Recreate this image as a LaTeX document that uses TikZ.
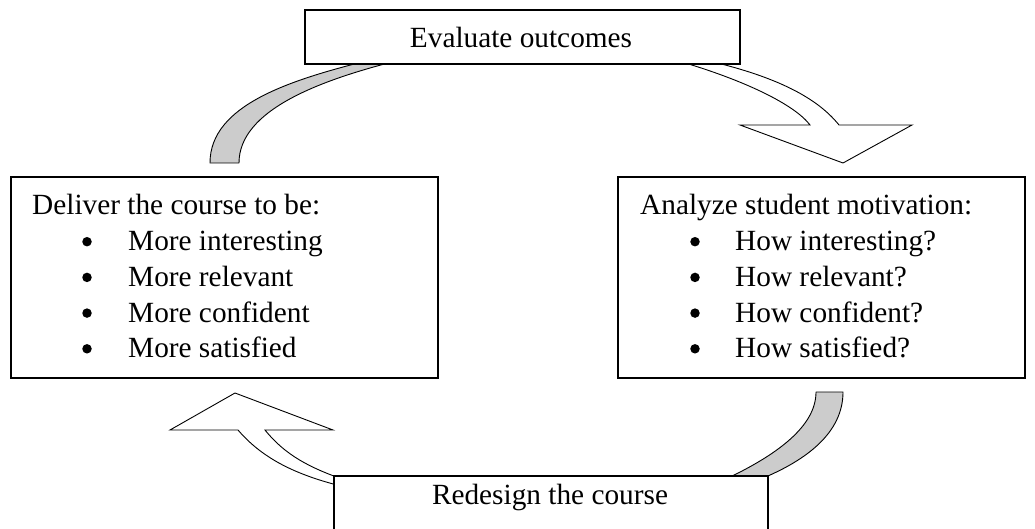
\documentclass[tikz,border=0pt]{standalone}
\usepackage{fontspec}
\setmainfont{Liberation Serif}
\usetikzlibrary{positioning, calc}

\begin{document}
\begin{tikzpicture}[x=1pt, y=-1pt, font=\fontsize{29.3}{35.7}\selectfont]
    \tikzstyle{box}=[draw, line width=1.2pt, fill=white, inner sep=0pt]
    \tikzstyle{band}=[draw, line width=0.9pt, fill=black!20, line join=round]
    \tikzstyle{bigarrow}=[draw, line width=0.9pt, fill=white, line join=miter]
    \tikzstyle{txt}=[anchor=base west, inner sep=0pt]
    \tikzstyle{dot}=[circle, fill, inner sep=0pt, minimum size=9.5pt]

    \useasboundingbox (0,0) rectangle (1035,529);

    % curved arrows, drawn first so the boxes cover their ends
    \draw[band] (210,163) .. controls (210,105) and (290,80) .. (370,60)
        -- (400,60) .. controls (320,80) and (239,110) .. (239,163) -- cycle;
    \draw[bigarrow] (675,60) .. controls (745,80) and (795,105) .. (810,125)
        -- (740,125) -- (843,163) -- (912,125) -- (839,125)
        .. controls (815,95) and (770,75) .. (705,60) -- cycle;
    \draw[band] (816,392) -- (843,392) .. controls (843,432) and (808,462) .. (748,484)
        -- (715,484) .. controls (780,455) and (816,425) .. (816,392) -- cycle;
    \draw[bigarrow] (345,487) .. controls (295,475) and (262,458) .. (238,430)
        -- (170,430) -- (235,393) -- (333,430) -- (265,430)
        .. controls (285,455) and (310,468) .. (345,480) -- cycle;

    % boxes
    \node[box, minimum width=435, minimum height=54] (evaluate) at (522.5,37) {};
    \node[box, minimum width=427, minimum height=201] (deliver) at (224.5,277.5) {};
    \node[box, minimum width=407, minimum height=201] (analyze) at (821.5,277.5) {};
    \node[box, minimum width=434, minimum height=56] (redesign) at (551,504) {};

    % texts
    \node[txt, anchor=base] (evaluate text) at (521,48) {Evaluate outcomes};
    \node[txt, anchor=base] (redesign text) at (550,504) {Redesign the course};

    \node[txt] (deliver head) at (32,215) {Deliver the course to be:};
    \foreach \entry [count=\i] in {More interesting, More relevant, More confident, More satisfied} {
        \node[dot] (deliver dot \i) at (87,206+\i*35.7) {};
        \node[txt] (deliver item \i) at (128,215+\i*35.7) {\entry};
    }

    \node[txt] (analyze head) at (640,215) {Analyze student motivation:};
    \foreach \entry [count=\i] in {How interesting?, How relevant?, How confident?, How satisfied?} {
        \node[dot] (analyze dot \i) at (695,206+\i*35.7) {};
        \node[txt] (analyze item \i) at (735,215+\i*35.7) {\entry};
    }
\end{tikzpicture}
\end{document}
